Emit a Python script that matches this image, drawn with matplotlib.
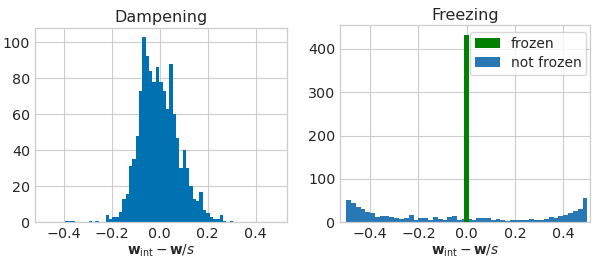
import numpy as np
import matplotlib
matplotlib.use("Agg")
import matplotlib.pyplot as plt

# ---- Dampening histogram (bin edges and counts) ----
damp_start = -0.394
damp_width = 0.014
damp_counts = [1, 1, 1, 0, 0, 0, 0, 1, 0, 1,
               0, 0, 4, 2, 3, 3, 6, 13, 16, 31,
               35, 48, 73, 103, 92, 84, 78, 86, 78, 73,
               63, 88, 60, 47, 30, 40, 30, 20, 13, 12,
               17, 7, 5, 3, 2, 2, 4, 1, 0, 1]

# ---- Freezing histogram ----
frz_start = -0.5
frz_width = 0.02
notfrozen_counts = [51, 45, 35, 30, 25, 22, 12, 15, 15, 13,
                    10, 7, 9, 17, 6, 10, 11, 6, 12, 8,
                    5, 12, 14, 6, 8, 8, 6, 10, 11, 10,
                    5, 8, 6, 4, 6, 6, 5, 6, 8, 5,
                    6, 8, 12, 11, 15, 18, 21, 26, 32, 56]
frozen_value = 0.0
frozen_count = 432

x_ticks = [-0.4, -0.2, 0.0, 0.2, 0.4]
damp_yticks = [0, 20, 40, 60, 80, 100]
frz_yticks = [0, 100, 200, 300, 400]
xlabel = r'$\mathbf{w}_{\mathrm{int}} - \mathbf{w}/s$'

text_color = '#262626'
grid_color = '#cccccc'
plt.rcParams['font.family'] = ['DejaVu Sans']
plt.rcParams['mathtext.fontset'] = 'dejavusans'

fig = plt.figure(figsize=(6.08, 2.58), dpi=100)
ax1 = fig.add_axes([0.0576, 0.138, 0.414, 0.755])
ax2 = fig.add_axes([0.560, 0.138, 0.410, 0.764])

def style(ax):
    ax.set_facecolor('white')
    ax.grid(True, color=grid_color, linewidth=0.8)
    ax.set_axisbelow(True)
    for s in ax.spines.values():
        s.set_color(grid_color)
        s.set_linewidth(0.9)
    ax.tick_params(length=0, labelsize=10.3, colors=text_color, pad=3.5)

# Dampening
de = damp_start + damp_width * np.arange(len(damp_counts) + 1)
dc = (de[:-1] + de[1:]) / 2
ax1.hist(dc, bins=de, weights=damp_counts, color='#0072B2', linewidth=0)
ax1.set_xlim(-0.52, 0.53)
ax1.set_ylim(0, 108)
ax1.set_xticks(x_ticks)
ax1.set_yticks(damp_yticks)
ax1.set_title('Dampening', fontsize=11.5, color=text_color, pad=4)
ax1.set_xlabel(xlabel, fontsize=9.8, color=text_color, labelpad=1)
style(ax1)

# Freezing
fe = frz_start + frz_width * np.arange(len(notfrozen_counts) + 1)
fc = (fe[:-1] + fe[1:]) / 2
ax2.hist([frozen_value], bins=[frozen_value - 0.0095, frozen_value + 0.0095],
         weights=[frozen_count], color='green', linewidth=0, label='frozen', zorder=3)
ax2.hist(fc, bins=fe, weights=notfrozen_counts, color='#2878b5', linewidth=0,
         label='not frozen', zorder=2)
ax2.set_xlim(-0.523, 0.51)
ax2.set_ylim(0, 454)
ax2.set_xticks(x_ticks)
ax2.set_yticks(frz_yticks)
ax2.set_title('Freezing', fontsize=11.5, color=text_color, pad=4)
ax2.set_xlabel(xlabel, fontsize=9.8, color=text_color, labelpad=1)
style(ax2)
leg = ax2.legend(loc='upper right', bbox_to_anchor=(0.995, 0.975), fontsize=10,
                 frameon=True, fancybox=True, borderaxespad=0.15,
                 handlelength=1.8, borderpad=0.35, labelspacing=0.35, handletextpad=0.8)
leg.get_frame().set_edgecolor(grid_color)
for t in leg.get_texts():
    t.set_color(text_color)

fig.savefig('out.png', dpi=100)
